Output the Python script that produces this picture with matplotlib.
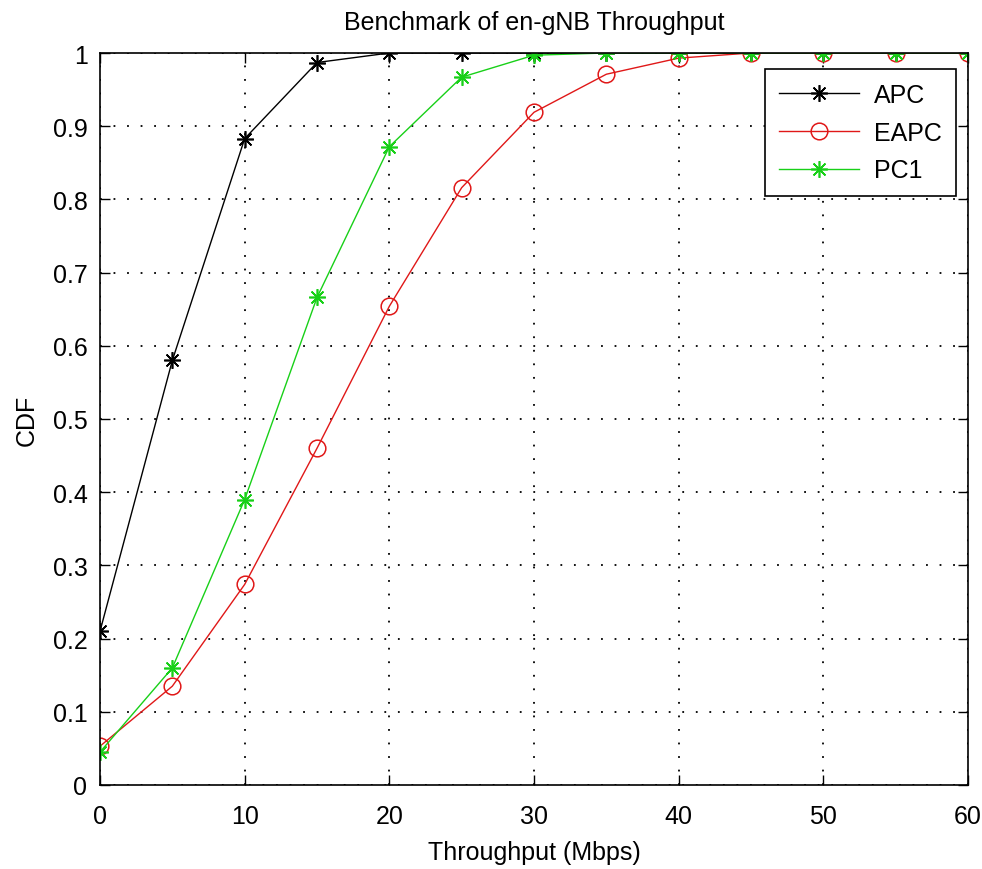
import numpy as np
import matplotlib
matplotlib.use("Agg")
import matplotlib.pyplot as plt

# throughput grid (Mbps) and CDF values
throughput = [0, 5, 10, 15, 20, 25, 30, 35, 40, 45, 50, 55, 60]
cdf_apc = [0.21, 0.58, 0.883, 0.987, 1.0, 1.0, 1.0, 1.0, 1.0, 1.0, 1.0, 1.0, 1.0]
cdf_eapc = [0.053, 0.135, 0.274, 0.46, 0.654, 0.816, 0.919, 0.971, 0.993, 1.0, 1.0, 1.0, 1.0]
cdf_pc1 = [0.045, 0.16, 0.39, 0.666, 0.872, 0.967, 0.997, 1.0, 1.0, 1.0, 1.0, 1.0, 1.0]

plt.rcParams['font.family'] = ['Liberation Sans', 'DejaVu Sans']
plt.rcParams['font.size'] = 18

fig = plt.figure(figsize=(9.82, 8.7), dpi=100)
ax = fig.add_axes([100 / 982, 84 / 870, 868 / 982, 732 / 870])

star = (8, 2, 0)
ax.plot(throughput, cdf_apc, color='black', lw=1, marker=star, ms=12, mew=1.2, label='APC')
ax.plot(throughput, cdf_eapc, color='#e01818', lw=1, marker='o', ms=12, mfc='none', mew=1.1, label='EAPC')
ax.plot(throughput, cdf_pc1, color='#18d018', lw=1, marker=star, ms=12, mew=1.2, label='PC1')

ax.set_xlim(0, 60)
ax.set_ylim(0, 1)
ax.set_xticks(np.arange(0, 61, 10))
ax.set_yticks(np.arange(0, 1.01, 0.1))
ax.set_yticklabels(['0', '0.1', '0.2', '0.3', '0.4', '0.5', '0.6', '0.7', '0.8', '0.9', '1'])
ax.grid(True, color='black', linestyle=(0, (1, 6.5)), linewidth=1.3)
ax.tick_params(axis='y', direction='in', length=7, width=1, right=True, pad=9)
ax.tick_params(axis='x', direction='in', length=7, width=1, top=True, pad=14)
for s in ax.spines.values():
    s.set_linewidth(1.2)

# title placed by hand, MATLAB style
ax.text(0.5, 1.042, 'Benchmark of en-gNB Throughput', transform=ax.transAxes,
        ha='center', va='center', fontsize=18)
ax.set_xlabel('Throughput (Mbps)', labelpad=8)
ax.set_ylabel('CDF', labelpad=10)

leg = ax.legend(loc='upper right', bbox_to_anchor=(0.986, 0.978), borderaxespad=0,
                fancybox=False, edgecolor='black', framealpha=1, handlelength=3.2,
                borderpad=0.55, labelspacing=0.55, handletextpad=0.6)
leg.get_frame().set_linewidth(1.2)

fig.savefig('out.png', dpi=100)
